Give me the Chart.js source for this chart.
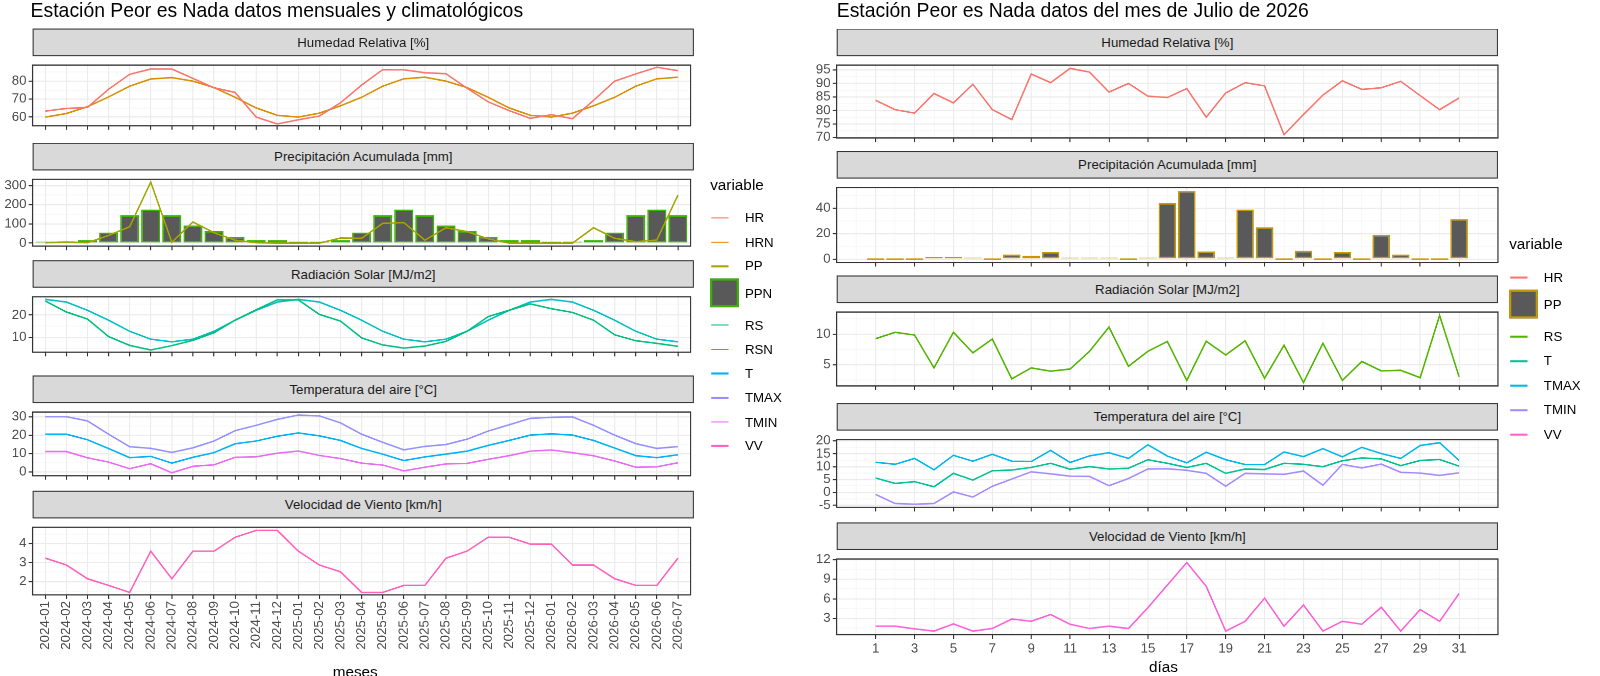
<!DOCTYPE html>
<html><head><meta charset="utf-8">
<script src="https://cdn.jsdelivr.net/npm/chart.js@4"></script>
<style>
body{margin:0;width:1600px;height:676px;background:#fff;font-family:"Liberation Sans",Arial,sans-serif;overflow:hidden}
#page{position:relative;width:1568px;height:663px;transform:scale(1.0204);transform-origin:0 0}
.abs{position:absolute}
.title{font-size:19px;color:#000}
.strip{background:#d9d9d9;border:1px solid #333;box-sizing:border-box;font-size:13px;color:#1a1a1a;text-align:center}
.leg{font-size:13px;color:#000}
.lgt{font-size:15px}
.axt{font-size:15px;color:#000}
</style></head><body>
<div id="page">
<div class="abs title" style="left:30px;top:0px">Estación Peor es Nada datos mensuales y climatológicos</div>
<div class="abs title" style="left:820px;top:0px">Estación Peor es Nada datos del mes de Julio de 2026</div>
<div class="abs axt" style="left:326px;top:649px">meses</div>
<div class="abs axt" style="left:1126px;top:645px">días</div>
<div id="root"></div>
</div>
<script>
// monthly series (2024-01 .. 2026-07)
const months = ['2024-01','2024-02','2024-03','2024-04','2024-05','2024-06','2024-07','2024-08','2024-09','2024-10','2024-11','2024-12',
  '2025-01','2025-02','2025-03','2025-04','2025-05','2025-06','2025-07','2025-08','2025-09','2025-10','2025-11','2025-12',
  '2026-01','2026-02','2026-03','2026-04','2026-05','2026-06','2026-07'];
const HR  = [63.3,64.8,65.4,75.5,83.8,86.7,86.7,81.5,76.3,73.7,60,56.2,58.5,60.6,68,77.8,86.4,86.3,84.7,84.1,76,68.5,63.6,59.3,61.3,59.1,69.3,80,84,87.7,85.8];
const HRN = [60,62,65.8,71.2,77.2,81.2,82,80,76.4,71,65.1,61,60,62.2,66.3,71,77.2,81.3,82.2,80,76.4,71,65.1,61,60,62.2,66.3,71,77.2,81.3,82.2];
const PP  = [2,5,2,40,85,318,4,110,54,15,2,0,0,0,26,25,103,107,15,80,60,22,0,0,0,0,80,25,7,16,250];
const PPN = [8,8,15,55,145,175,145,92,62,32,15,15,8,8,15,55,145,175,145,92,62,32,15,15,8,8,15,55,145,175,145];
const RS  = [26.4,21.4,18.2,10.3,6.3,4.2,6.2,8.6,12,17.7,22.4,26.9,26.9,20.3,17.3,9.7,6.5,5.1,6,8.1,12.7,19.3,22.2,25.1,22.9,21.2,17.7,11.1,8.4,7.2,5.9];
const RSN = [27.1,25.9,22.2,17.7,12.7,9.1,7.9,9.1,12.7,17.7,22.2,25.9,27.1,25.9,22.2,17.7,12.7,9.1,7.9,9.1,12.7,17.7,22.2,25.9,27.1,25.9,22.2,17.7,12.7,9.1,7.9];
const T    = [20.5,20.5,17.5,12.7,7.8,8.5,4.8,8,10.5,15.3,16.8,19.4,21.2,19.6,17.1,12.8,9.7,6.2,8.2,9.7,11.3,14.4,17.1,20,20.7,20,17.1,13,8.9,7.8,9.4];
const TMAX = [30,30,27.7,20.5,13.7,12.8,10.6,13.1,16.8,22.4,25.3,28.5,30.9,30.4,26.6,20.5,16.1,12,13.9,14.9,17.8,22.2,25.6,29.1,29.6,29.9,25.3,20,15.4,12.8,13.8];
const TMIN = [11.1,11.1,7.7,5.4,1.8,4.5,-0.4,3.1,3.9,8,8.3,10.2,11.4,9,7.3,4.8,3.8,0.6,2.6,4.4,4.7,6.9,8.9,11.3,11.9,10.5,8.8,6,2.6,2.8,5];
const VV   = [3.23,2.87,2.15,1.8,1.43,3.6,2.15,3.6,3.6,4.33,4.69,4.69,3.6,2.87,2.51,1.43,1.43,1.8,1.8,3.23,3.6,4.33,4.33,3.97,3.97,2.87,2.87,2.15,1.8,1.8,3.23];

// daily series July 2026
const days = Array.from({length: 31}, (_, i) => i + 1);
const dHR   = [83.75,80.3,79,86.3,82.8,89.7,80.3,76.6,93.5,90.3,95.6,94.2,86.8,90,85.3,84.8,88.1,77.5,86.5,90.3,89.1,71,78.5,85.7,91,87.8,88.4,90.8,85.5,80.3,84.6];
const dPP   = [0,0,0,1.5,1.5,0.3,0,3.5,2.5,5.5,0.3,0.3,0.3,0,0.3,44,53.5,6,0.3,39,25,0,6.5,0,5.5,0,19,3.5,0,0,31.5];
const dRS   = [9.26,10.3,9.86,4.5,10.3,6.95,9.2,2.7,4.5,3.95,4.3,7.2,11.15,4.75,7.2,8.8,2.45,8.84,6.6,8.9,2.8,8.2,2.1,8.5,2.45,5.55,4,4.1,2.9,13.05,3.05];
const dTMAX = [11.7,10.9,13.2,8.8,14.4,12.1,14.8,12.1,12,16.3,11.6,14.2,15.4,13.2,18.5,14.1,11.5,15.6,12.7,10.8,10.8,15.7,13.9,17,13.8,17.5,15.1,13.2,18.2,19.3,12.4];
const dT    = [5.6,3.5,4.2,2.2,7.4,4.8,8.4,8.7,9.7,11.3,9,10,9.1,9.4,12.7,11.3,9.7,11.3,7.4,9.1,8.9,11.3,10.9,10,12.3,13.4,13,10.4,12.4,12.8,10.2];
const dTMIN = [-0.8,-4.3,-4.6,-4.3,0.2,-1.8,2.4,5.2,8,7.2,6.3,6.2,2.6,5.4,9.1,9.2,8.6,7.4,2.4,7.4,7.2,7,8.3,2.8,10.9,9.5,11,7.8,7.5,6.6,7.6];
const dVV   = [1.8,1.8,1.4,1.05,2.15,1.05,1.45,2.9,2.55,3.6,2.1,1.45,1.8,1.45,4.65,8.1,11.55,7.9,1.05,2.55,6.1,1.8,5.05,1.05,2.55,2.1,4.7,1.05,4.35,2.55,6.8];

const C10 = {HR:'#F8766D',HRN:'#D89000',PP:'#A3A500',PPN:'#39B600',RS:'#00BF7D',RSN:'#00BFC4',T:'#00B0F6',TMAX:'#9590FF',TMIN:'#E76BF3',VV:'#FF62BC'};
const C7  = {HR:'#F8766D',PP:'#C49A00',RS:'#53B400',T:'#00C094',TMAX:'#00B6EB',TMIN:'#A58AFF',VV:'#FB61D7'};

const root = document.getElementById('root');
const PAD = 2;

function xy(xs, ys) { return ys.map((v, i) => ({x: xs[i], y: v})); }
function line(label, xs, ys, color) {
  return {type: 'line', label, data: xy(xs, ys), borderColor: color, borderWidth: 1.5, pointRadius: 0, tension: 0, order: 1};
}
function bar(label, xs, ys, border) {
  return {type: 'bar', label, data: xy(xs, ys), backgroundColor: '#595959', borderColor: border, borderWidth: 1.5,
    borderSkipped: false, categoryPercentage: 0.9, barPercentage: 1, minBarLength: 1.5, order: 2};
}

function makeTicks(min, max, minor, major) {
  const out = [];
  for (let v = Math.ceil(min / minor - 1e-9) * minor; v <= max + 1e-9; v += minor) {
    const r = Math.round(v * 1000) / 1000;
    out.push({value: r, mj: Math.abs(r / major - Math.round(r / major)) < 1e-6});
  }
  return out;
}

const frame = {
  id: 'frame',
  afterDraw(chart) {
    const a = chart.chartArea, c = chart.ctx;
    c.save(); c.strokeStyle = '#333'; c.lineWidth = 1.2;
    c.strokeRect(a.left, a.top, a.right - a.left, a.bottom - a.top); c.restore();
  }
};

function facet(o) {
  const [x0, y0, x1, y1] = o.box;
  const st = document.createElement('div');
  st.className = 'abs strip';
  st.style.cssText = `left:${x0}px;top:${y0 - 28}px;width:${x1 - x0}px;height:27px;line-height:26px`;
  st.textContent = o.strip;
  root.appendChild(st);
  const wrap = document.createElement('div');
  wrap.className = 'abs';
  const xh = o.showX ? o.xh : 0;
  const W = x1 - x0 + o.yw + PAD * 2, H = y1 - y0 + xh + PAD * 2;
  wrap.style.cssText = `left:${x0 - o.yw - PAD}px;top:${y0 - PAD}px;width:${W}px;height:${H}px`;
  const cv = document.createElement('canvas');
  wrap.appendChild(cv); root.appendChild(wrap);
  const gcol = c => c.tick && c.tick.mj ? '#ebebeb' : '#f4f4f4';
  const gw = c => c.tick && c.tick.mj ? 1.1 : 0.6;
  const tcol = c => c.tick && c.tick.mj ? '#333' : 'rgba(0,0,0,0)';
  new Chart(cv, {
    type: 'line',
    data: {datasets: o.datasets},
    options: {
      responsive: true, maintainAspectRatio: false, animation: false, devicePixelRatio: 2,
      layout: {padding: PAD},
      plugins: {legend: {display: false}, tooltip: {enabled: false}},
      scales: {
        x: {
          type: 'linear', min: o.xmin, max: o.xmax, offset: false,
          grid: {offset: false, color: gcol, lineWidth: gw, tickColor: tcol, tickLength: 4, drawTicks: o.showX},
          border: {display: false},
          afterBuildTicks: s => { s.ticks = o.xticks(); },
          afterFit: s => { s.height = xh; },
          ticks: {display: o.showX, autoSkip: false, color: '#4d4d4d', font: {size: 13, family: 'Liberation Sans'},
            maxRotation: o.rot, minRotation: o.rot, padding: 2,
            callback: (v, i, t) => t[i].mj ? o.xlabel(v) : ''}
        },
        y: {
          min: o.ymin, max: o.ymax,
          grid: {color: gcol, lineWidth: gw, tickColor: tcol, tickLength: 4},
          border: {display: false},
          afterBuildTicks: s => { s.ticks = makeTicks(o.ymin, o.ymax, o.minor, o.major); },
          afterFit: s => { s.width = o.yw; },
          ticks: {autoSkip: false, color: '#4d4d4d', font: {size: 13, family: 'Liberation Sans'}, padding: 2,
            callback: (v, i, t) => t[i].mj ? String(v) : ''}
        }
      }
    },
    plugins: [frame]
  });
}

// left panel
const mIdx = months.map((_, i) => i);
const L = {yw: 32, xh: 68, rot: 90, xmin: -0.6, xmax: 30.6,
  xticks: () => mIdx.map(i => ({value: i, mj: true})), xlabel: v => months[v]};
facet({...L, box: [32, 56, 680, 131], strip: 'Humedad Relativa [%]', ymin: 55.2, ymax: 88.9, minor: 5, major: 10,
  datasets: [line('HR', mIdx, HR, C10.HR), line('HRN', mIdx, HRN, C10.HRN)]});
facet({...L, box: [32, 168, 680, 249], strip: 'Precipitación Acumulada [mm]', ymin: -16, ymax: 332, minor: 50, major: 100,
  datasets: [line('PP', mIdx, PP, C10.PP), bar('PPN', mIdx, PPN, C10.PPN)]});
facet({...L, box: [32, 283, 680, 353], strip: 'Radiación Solar [MJ/m2]', ymin: 3.2, ymax: 28.3, minor: 5, major: 10,
  datasets: [line('RS', mIdx, RS, C10.RS), line('RSN', mIdx, RSN, C10.RSN)]});
facet({...L, box: [32, 396, 680, 474], strip: 'Temperatura del aire [°C]', ymin: -2, ymax: 32.5, minor: 5, major: 10,
  datasets: [line('T', mIdx, T, C10.T), line('TMAX', mIdx, TMAX, C10.TMAX), line('TMIN', mIdx, TMIN, C10.TMIN)]});
facet({...L, box: [32, 509, 680, 583], strip: 'Velocidad de Viento [km/h]', ymin: 1.3, ymax: 4.85, minor: 0.5, major: 1, showX: true,
  datasets: [line('VV', mIdx, VV, C10.VV)]});

// right panel
const R = {yw: 35, xh: 22, rot: 0, xmin: -1, xmax: 33,
  xticks: () => Array.from({length: 33}, (_, i) => ({value: i, mj: i % 2 === 1})), xlabel: v => String(v)};
facet({...R, box: [820, 56, 1468, 143], strip: 'Humedad Relativa [%]', ymin: 69.8, ymax: 96.8, minor: 2.5, major: 5,
  datasets: [line('HR', days, dHR, C7.HR)]});
facet({...R, box: [820, 176, 1468, 265], strip: 'Precipitación Acumulada [mm]', ymin: -2.7, ymax: 56.2, minor: 10, major: 20,
  datasets: [bar('PP', days, dPP, C7.PP)]});
facet({...R, box: [820, 298, 1468, 386], strip: 'Radiación Solar [MJ/m2]', ymin: 1.55, ymax: 13.6, minor: 2.5, major: 5,
  datasets: [line('RS', days, dRS, C7.RS)]});
facet({...R, box: [820, 423, 1468, 505], strip: 'Temperatura del aire [°C]', ymin: -5.8, ymax: 20.5, minor: 2.5, major: 5,
  datasets: [line('T', days, dT, C7.T), line('TMAX', days, dTMAX, C7.TMAX), line('TMIN', days, dTMIN, C7.TMIN)]});
facet({...R, box: [820, 540, 1468, 622], strip: 'Velocidad de Viento [km/h]', ymin: 0.5, ymax: 12.1, minor: 1.5, major: 3, showX: true,
  datasets: [line('VV', days, dVV, C7.VV)]});

// legends
function legend(x, y, colors, barKey, rowH) {
  const t = document.createElement('div');
  t.className = 'abs leg lgt'; t.style.cssText = `left:${x}px;top:${y}px`; t.textContent = 'variable';
  root.appendChild(t);
  let cy = y + 30;
  Object.keys(colors).forEach(k => {
    const big = k === barKey, h = big ? 30 : rowH;
    const key = document.createElement('div');
    key.className = 'abs';
    if (big) {
      key.style.cssText = `left:${x}px;top:${cy}px;width:28px;height:28px;background:#595959;border:2px solid ${colors[k]};box-sizing:border-box`;
    } else {
      key.style.cssText = `left:${x + 1}px;top:${cy + h / 2 - 1}px;width:17px;height:1.5px;background:${colors[k]}`;
    }
    root.appendChild(key);
    const lab = document.createElement('div');
    lab.className = 'abs leg';
    lab.style.cssText = `left:${x + 34}px;top:${cy + h / 2 - 8}px`;
    lab.textContent = k;
    root.appendChild(lab);
    cy += h + (big ? 4 : 0);
  });
}
legend(696, 172, C10, 'PPN', 23.7);
legend(1479, 230, C7, 'PP', 24);
</script>
</body></html>
